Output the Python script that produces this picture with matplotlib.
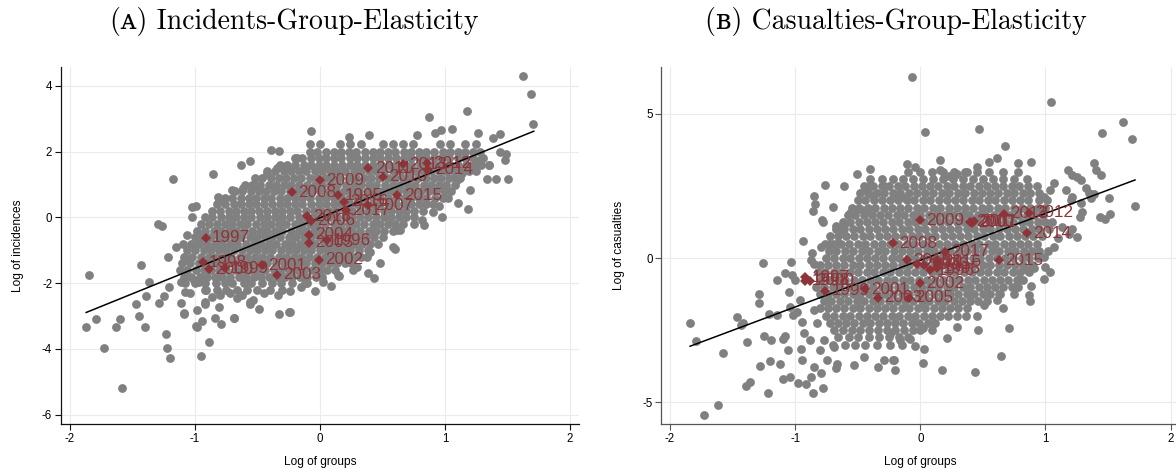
import matplotlib
matplotlib.use('Agg')
import matplotlib.pyplot as plt

plt.rcParams['font.family'] = ['Liberation Sans', 'DejaVu Sans']
plt.rcParams['axes.unicode_minus'] = False

GRAY = '#808080'
RED = '#8e3439'
GRID = '#ebebeb'

# ---------------- Panel A: incidents vs groups ----------------
# dense part of the cloud, one row of points per y level
a_rows = [
    (2.22, [-0.08, 0.0, 0.16, 0.24, 0.33, 0.5, 0.58, 0.66, 0.74, 0.96, 1.04, 1.16, 1.25]),
    (2.0, [-0.08, -0.02, 0.05, 0.11, 0.17, 0.23, 0.29, 0.36, 0.42, 0.48, 0.54, 0.6, 0.67, 0.73,
           0.79, 0.85, 0.91, 0.98, 1.04, 1.1, 1.16, 1.22, 1.28]),
    (1.8, [-0.2, -0.14, -0.07, -0.01, 0.05, 0.11, 0.17, 0.24, 0.3, 0.36, 0.42, 0.48, 0.54, 0.61,
           0.67, 0.73, 0.79, 0.85, 0.91, 0.97, 1.03, 1.1, 1.16, 1.22, 1.3]),
    (1.6, [-0.32, -0.26, -0.2, -0.13, -0.07, -0.01, 0.05, 0.11, 0.18, 0.24, 0.3, 0.36, 0.42, 0.49,
           0.55, 0.61, 0.67, 0.73, 0.8, 0.86, 0.92, 0.98, 1.04, 1.1, 1.17, 1.23, 1.29, 1.35]),
    (1.4, [-0.42, -0.36, -0.29, -0.23, -0.17, -0.11, -0.04, 0.02, 0.08, 0.14, 0.2, 0.27, 0.33, 0.39,
           0.45, 0.51, 0.58, 0.64, 0.7, 0.76, 0.82, 0.89, 0.95, 1.01, 1.07, 1.13, 1.19, 1.25]),
    (1.2, [-0.52, -0.46, -0.39, -0.33, -0.27, -0.21, -0.15, -0.08, -0.02, 0.04, 0.1, 0.16, 0.23,
           0.29, 0.35, 0.41, 0.47, 0.54, 0.6, 0.66, 0.72, 0.78, 0.85, 0.91, 0.97, 1.03, 1.08, 1.12]),
    (1.0, [-0.6, -0.54, -0.48, -0.41, -0.35, -0.29, -0.23, -0.17, -0.1, -0.04, 0.02, 0.08, 0.14,
           0.21, 0.27, 0.33, 0.39, 0.45, 0.52, 0.58, 0.64, 0.7, 0.76, 0.83, 0.89, 0.95, 1.01, 1.08]),
    (0.8, [-0.68, -0.62, -0.55, -0.49, -0.43, -0.37, -0.31, -0.24, -0.18, -0.12, -0.06, 0.0, 0.07,
           0.13, 0.19, 0.25, 0.31, 0.38, 0.44, 0.5, 0.56, 0.62, 0.69, 0.75, 0.81, 0.87, 0.93, 0.99,
           1.05]),
    (0.6, [-0.76, -0.7, -0.63, -0.57, -0.51, -0.45, -0.39, -0.32, -0.26, -0.2, -0.14, -0.08, -0.01,
           0.05, 0.11, 0.17, 0.23, 0.3, 0.36, 0.42, 0.48, 0.54, 0.61, 0.67, 0.73, 0.79, 0.85, 0.92,
           0.98]),
    (0.4, [-0.82, -0.76, -0.69, -0.63, -0.57, -0.51, -0.45, -0.38, -0.32, -0.26, -0.2, -0.14,
           -0.07, -0.01, 0.05, 0.11, 0.17, 0.24, 0.3, 0.36, 0.42, 0.48, 0.55, 0.61, 0.67, 0.73,
           0.79, 0.85, 0.9]),
    (0.2, [-0.86, -0.8, -0.73, -0.67, -0.61, -0.55, -0.49, -0.42, -0.36, -0.3, -0.24, -0.18,
           -0.11, -0.05, 0.01, 0.07, 0.13, 0.2, 0.26, 0.32, 0.38, 0.44, 0.51, 0.57, 0.63, 0.69,
           0.75, 0.82]),
    (0.0, [-0.92, -0.86, -0.79, -0.73, -0.67, -0.61, -0.55, -0.48, -0.42, -0.36, -0.3, -0.24,
           -0.17, -0.11, -0.05, 0.01, 0.07, 0.14, 0.2, 0.26, 0.32, 0.38, 0.45, 0.51, 0.57, 0.63,
           0.69, 0.75]),
    (-0.2, [-0.95, -0.89, -0.82, -0.76, -0.7, -0.64, -0.58, -0.51, -0.45, -0.39, -0.33, -0.27,
            -0.2, -0.14, -0.08, -0.02, 0.04, 0.11, 0.17, 0.23, 0.29, 0.35, 0.42, 0.48, 0.54, 0.6,
            0.66]),
    (-0.4, [-0.98, -0.92, -0.85, -0.79, -0.73, -0.67, -0.61, -0.54, -0.48, -0.42, -0.36, -0.3,
            -0.23, -0.17, -0.11, -0.05, 0.01, 0.08, 0.14, 0.2, 0.26, 0.32, 0.39, 0.45, 0.51, 0.58]),
    (-0.6, [-1.0, -0.94, -0.87, -0.81, -0.75, -0.69, -0.63, -0.56, -0.5, -0.44, -0.38, -0.32,
            -0.25, -0.19, -0.13, -0.07, -0.01, 0.06, 0.12, 0.18, 0.24, 0.3, 0.37, 0.43, 0.5]),
    (-0.8, [-1.03, -0.97, -0.9, -0.84, -0.78, -0.72, -0.66, -0.59, -0.53, -0.47, -0.41, -0.35,
            -0.28, -0.22, -0.16, -0.1, -0.04, 0.03, 0.09, 0.15, 0.21, 0.27, 0.34, 0.4, 0.46]),
    (-1.0, [-1.06, -1.0, -0.93, -0.87, -0.81, -0.75, -0.69, -0.62, -0.56, -0.5, -0.44, -0.38,
            -0.31, -0.25, -0.19, -0.13, -0.07, 0.0, 0.06, 0.12, 0.18, 0.24, 0.31, 0.38]),
    (-1.2, [-1.08, -1.02, -0.95, -0.89, -0.83, -0.77, -0.71, -0.64, -0.58, -0.52, -0.46, -0.4,
            -0.33, -0.27, -0.21, -0.15, -0.09, -0.02, 0.04, 0.1, 0.16, 0.22, 0.28, 0.33]),
    (-1.4, [-1.1, -1.04, -0.97, -0.91, -0.85, -0.79, -0.73, -0.66, -0.6, -0.54, -0.48, -0.42,
            -0.35, -0.29, -0.23, -0.17, -0.11, -0.04, 0.02, 0.08, 0.14, 0.2, 0.25]),
    (-1.6, [-1.12, -1.06, -0.99, -0.93, -0.87, -0.81, -0.75, -0.68, -0.62, -0.56, -0.5, -0.44,
            -0.37, -0.31, -0.25, -0.19, -0.13, -0.06, 0.0, 0.06, 0.12]),
    (-1.8, [-1.09, -1.03, -0.96, -0.9, -0.84, -0.78, -0.72, -0.65, -0.59, -0.53, -0.47, -0.41,
            -0.34, -0.28, -0.22, -0.16, -0.1, -0.03, 0.02]),
    (-2.0, [-1.08, -1.0, -0.92, -0.83, -0.76, -0.7, -0.61, -0.55, -0.46, -0.38, -0.31, -0.22, -0.12]),
    (-2.2, [-0.92, -0.82, -0.75, -0.66, -0.58, -0.5, -0.4, -0.3]),
]

# scattered points around the dense part
a_outliers = [
    (-1.87, -3.33), (-1.845, -1.76), (-1.79, -3.10), (-1.73, -3.98), (-1.63, -3.33),
    (-1.60, -3.09), (-1.58, -5.18), (-1.43, -1.45), (-1.47, -2.64), (-1.45, -2.99),
    (-1.40, -3.33), (-1.39, -2.39), (-1.365, -1.96), (-1.29, -2.59), (-1.25, -2.39),
    (-1.235, -3.53), (-1.22, -3.96), (-1.20, -4.26), (-1.21, -2.11), (-1.11, -2.59),
    (-1.09, -2.95), (-0.99, -3.29), (-0.98, -2.82), (-0.94, -3.15), (-0.95, -4.22),
    (-0.89, -3.78), (-0.92, -2.62), (-0.84, -3.05), (-0.805, -2.72), (-0.79, -3.23),
    (-0.685, -3.07), (-0.56, -2.62), (-0.485, -2.77), (-0.333, -2.36), (-0.325, -2.94),
    (-0.248, -2.89), (-0.24, -2.23), (-1.11, -1.96), (-1.01, -1.91), (-1.08, -2.26),
    (-1.04, -2.31), (-0.97, -1.96), (-0.91, -2.21), (-0.667, -2.46), (-0.627, -2.36),
    (-0.533, -2.51), (-0.45, -2.30), (-0.72, -2.30), (-0.80, -2.35), (-0.86, -2.42),
    (-0.92, -2.56), (-0.56, -2.56), (-0.24, -2.87), (-1.09, -2.92), (-0.987, -3.32),
    (-0.69, -3.07), (0.48, -1.38), (0.155, -1.78), (0.435, -1.85), (0.085, -2.08),
    (-0.04, -2.23), (0.021, -1.96), (0.293, -1.50), (-0.1, -2.0), (-0.15, -2.12),
    (0.267, -1.6), (0.373, -1.2), (0.587, -0.89), (0.6, -0.95), (0.4, -1.04),
    (0.387, -1.70), (0.147, -1.75), (-1.173, 1.17), (-0.853, 1.31), (-0.632, 1.60),
    (-0.56, 1.72), (-0.395, 2.06), (-0.325, 2.02), (-0.187, 1.81), (-1.293, -0.2),
    (-1.261, -0.26), (-0.992, 0.35), (-1.027, 0.32), (-1.027, 0.02), (-0.813, 0.62),
    (-0.808, 0.53), (-1.152, -0.89), (-1.099, -0.82), (-1.213, -1.2), (-0.965, -0.74),
    (-0.707, 0.82), (-0.613, 0.88), (-0.52, 0.98), (-0.427, 1.33), (-0.347, 1.49),
    (-1.09, -1.2), (-1.06, -0.55), (1.62, 4.29), (1.685, 3.75), (1.707, 2.83),
    (1.173, 3.23), (0.869, 3.04), (-0.072, 2.62), (0.232, 2.45), (0.392, 2.52),
    (0.773, 2.5), (0.923, 2.57), (0.965, 2.65), (1.059, 2.68), (1.267, 2.57),
    (1.387, 2.40), (1.44, 2.55), (1.485, 1.94), (1.44, 1.99), (1.48, 1.74),
    (1.501, 1.16), (1.405, 1.16), (1.333, 1.18), (1.2, 0.83), (1.181, 0.25),
    (0.979, 0.02), (0.832, -0.23), (0.813, -0.08), (0.613, -0.39), (0.64, -0.39),
    (1.28, 1.74), (1.355, 1.59), (1.227, 1.54), (1.133, 1.34), (1.093, 1.14),
    (1.02, 0.6), (1.1, 0.45), (0.95, 0.35), (0.9, 0.15), (0.75, -0.2),
]

a_years = ['1997', '1998', '2000', '1999', '2001', '2003', '2002', '2004', '2005', '1996',
           '2018', '2006', '2008', '2009', '1995', '2016', '2017', '2007', '2015', '2010',
           '2011', '2013', '2012', '2014']
a_year_x = [-0.912, -0.939, -0.888, -0.76, -0.467, -0.347, -0.005, -0.088, -0.088, 0.053,
            -0.107, -0.075, -0.227, 0.0, 0.147, 0.192, 0.208, 0.387, 0.619, 0.501,
            0.387, 0.661, 0.853, 0.867]
a_year_y = [-0.62, -1.37, -1.58, -1.55, -1.45, -1.75, -1.28, -0.52, -0.77, -0.69,
            0.04, -0.10, 0.76, 1.13, 0.68, 0.47, 0.22, 0.37, 0.68, 1.23,
            1.49, 1.62, 1.64, 1.45]
a_fit_x = [-1.87, 1.71]
a_fit_y = [-2.89, 2.62]

# ---------------- Panel B: casualties vs groups ----------------
b_rows = [
    (3.0, [-0.1, 0.0, 0.09, 0.18, 0.27, 0.37, 0.45, 0.55, 0.66, 0.78]),
    (2.75, [-0.4, -0.31, -0.22, -0.14, -0.06, 0.02, 0.1, 0.18, 0.26, 0.34, 0.42, 0.5, 0.58,
            0.66, 0.75, 0.85]),
    (2.5, [-0.45, -0.38, -0.31, -0.25, -0.18, -0.12, -0.05, 0.01, 0.08, 0.14, 0.21, 0.27, 0.34,
           0.4, 0.47, 0.53, 0.6, 0.66, 0.73, 0.79, 0.86, 0.93]),
    (2.25, [-0.48, -0.42, -0.35, -0.29, -0.22, -0.16, -0.09, -0.03, 0.04, 0.1, 0.17, 0.23, 0.3,
            0.36, 0.43, 0.49, 0.56, 0.62, 0.69, 0.75, 0.82, 0.88, 0.95]),
    (2.0, [-0.5, -0.44, -0.37, -0.31, -0.24, -0.18, -0.11, -0.05, 0.02, 0.08, 0.15, 0.21, 0.28,
           0.34, 0.41, 0.47, 0.54, 0.6, 0.67, 0.73, 0.8, 0.86, 0.95]),
    (1.75, [-0.55, -0.49, -0.42, -0.36, -0.29, -0.23, -0.16, -0.1, -0.03, 0.03, 0.1, 0.16, 0.23,
            0.29, 0.36, 0.42, 0.49, 0.55, 0.62, 0.68, 0.75, 0.81, 0.88, 0.94, 1.0]),
    (1.5, [-0.58, -0.52, -0.45, -0.39, -0.32, -0.26, -0.19, -0.13, -0.06, 0.0, 0.07, 0.13, 0.2,
           0.26, 0.33, 0.39, 0.46, 0.52, 0.59, 0.65, 0.72, 0.78, 0.85, 0.91, 0.98]),
    (1.25, [-0.62, -0.56, -0.49, -0.43, -0.36, -0.3, -0.23, -0.17, -0.1, -0.04, 0.03, 0.09, 0.16,
            0.22, 0.29, 0.35, 0.42, 0.48, 0.55, 0.61, 0.68, 0.74, 0.81, 0.87, 0.94, 1.0, 1.05]),
    (1.0, [-0.67, -0.61, -0.54, -0.48, -0.41, -0.35, -0.28, -0.22, -0.15, -0.09, -0.02, 0.04,
           0.11, 0.17, 0.24, 0.3, 0.37, 0.43, 0.5, 0.56, 0.63, 0.69, 0.76, 0.82, 0.89, 0.95, 1.03]),
    (0.75, [-0.72, -0.66, -0.59, -0.53, -0.46, -0.4, -0.33, -0.27, -0.2, -0.14, -0.07, -0.01,
            0.06, 0.12, 0.19, 0.25, 0.32, 0.38, 0.45, 0.51, 0.58, 0.64, 0.71, 0.77, 0.84, 0.9, 0.97]),
    (0.5, [-0.76, -0.7, -0.63, -0.57, -0.5, -0.44, -0.37, -0.31, -0.24, -0.18, -0.11, -0.05, 0.02,
           0.08, 0.15, 0.21, 0.28, 0.34, 0.41, 0.47, 0.54, 0.6, 0.67, 0.73, 0.8, 0.86, 0.93]),
    (0.25, [-0.73, -0.67, -0.6, -0.54, -0.47, -0.41, -0.34, -0.28, -0.21, -0.15, -0.08, -0.02,
            0.05, 0.11, 0.18, 0.24, 0.31, 0.37, 0.44, 0.5, 0.57, 0.63, 0.7, 0.76, 0.83, 0.89, 0.95]),
    (0.0, [-0.75, -0.69, -0.62, -0.56, -0.49, -0.43, -0.36, -0.3, -0.23, -0.17, -0.1, -0.04, 0.03,
           0.09, 0.16, 0.22, 0.29, 0.35, 0.42, 0.48, 0.55, 0.61, 0.68, 0.74, 0.81, 0.87, 0.94]),
    (-0.25, [-0.8, -0.74, -0.67, -0.61, -0.54, -0.48, -0.41, -0.35, -0.28, -0.22, -0.15, -0.09,
             -0.02, 0.04, 0.11, 0.17, 0.24, 0.3, 0.37, 0.43, 0.5, 0.56, 0.63, 0.69, 0.76, 0.82, 0.89]),
    (-0.5, [-0.82, -0.76, -0.69, -0.63, -0.56, -0.5, -0.43, -0.37, -0.3, -0.24, -0.17, -0.11,
            -0.04, 0.02, 0.09, 0.15, 0.22, 0.28, 0.35, 0.41, 0.48, 0.54, 0.61, 0.67, 0.74, 0.8, 0.87]),
    (-0.75, [-0.79, -0.73, -0.66, -0.6, -0.53, -0.47, -0.4, -0.34, -0.27, -0.21, -0.14, -0.08,
             -0.01, 0.05, 0.12, 0.18, 0.25, 0.31, 0.38, 0.44, 0.51, 0.57, 0.64, 0.7, 0.77, 0.82]),
    (-1.0, [-0.83, -0.77, -0.7, -0.64, -0.57, -0.51, -0.44, -0.38, -0.31, -0.25, -0.18, -0.12,
            -0.05, 0.01, 0.08, 0.14, 0.21, 0.27, 0.34, 0.4, 0.47, 0.53, 0.6, 0.66, 0.73, 0.78]),
    (-1.25, [-0.8, -0.74, -0.67, -0.61, -0.54, -0.48, -0.41, -0.35, -0.28, -0.22, -0.15, -0.09,
             -0.02, 0.04, 0.11, 0.17, 0.24, 0.3, 0.37, 0.43, 0.5, 0.56, 0.63]),
    (-1.5, [-0.77, -0.71, -0.64, -0.58, -0.51, -0.45, -0.38, -0.32, -0.25, -0.19, -0.12, -0.06,
            0.01, 0.07, 0.14, 0.2, 0.27, 0.33, 0.4, 0.46, 0.53]),
    (-1.75, [-0.8, -0.74, -0.67, -0.61, -0.54, -0.48, -0.41, -0.35, -0.28, -0.22, -0.15, -0.09,
             -0.02, 0.04, 0.11, 0.17, 0.24, 0.3, 0.37]),
    (-2.0, [-0.75, -0.69, -0.62, -0.56, -0.49, -0.43, -0.36, -0.3, -0.23, -0.17, -0.1, -0.04,
            0.03, 0.09, 0.16, 0.22, 0.29]),
    (-2.25, [-0.72, -0.66, -0.59, -0.53, -0.46, -0.4, -0.33, -0.27, -0.2, -0.14, -0.07, -0.01,
             0.06, 0.12]),
    (-2.5, [-0.69, -0.62, -0.55, -0.48, -0.41, -0.34, -0.27, -0.2, -0.13, -0.06, 0.0]),
    (-2.75, [-0.66, -0.57, -0.5, -0.41, -0.33, -0.25, -0.17, -0.1]),
    (-3.0, [-0.7, -0.6, -0.52, -0.44, -0.35, -0.24, -0.15]),
]

b_outliers = [
    (-0.067, 6.30), (1.048, 5.40), (1.619, 4.71), (1.693, 4.13), (1.448, 4.35),
    (0.04, 4.38), (0.467, 4.48), (0.675, 3.9), (0.613, 3.48), (0.885, 3.34),
    (0.781, 3.29), (0.547, 3.32), (0.155, 3.4), (-0.107, 3.27), (-0.04, 3.15),
    (1.712, 1.82), (1.507, 2.07), (1.515, 1.53), (1.432, 1.44), (1.472, 1.36),
    (1.387, 3.3), (1.4, 3.05), (1.44, 2.88), (1.179, 3.06), (1.213, 2.88),
    (1.253, 2.83), (1.28, 2.71), (1.32, 2.44), (1.347, 2.27), (1.365, 2.09),
    (1.387, 2.24), (1.16, 2.36), (1.213, 2.13), (1.205, 2.01), (1.28, 1.9),
    (1.293, 1.6), (1.275, 1.43), (1.067, 2.59), (1.04, 2.36), (0.987, 2.13),
    (1.013, 2.01), (1.133, 1.08), (1.187, 0.85), (1.253, 0.73), (1.213, 1.02),
    (1.04, -0.48), (0.995, -0.3), (0.155, 3.07), (0.227, 2.84), (0.293, 2.93),
    (0.36, 2.99), (0.453, 3.17), (-0.293, 2.48), (-0.213, 2.13), (-0.12, 2.07),
    (-0.4, 3.09), (-0.507, 2.92), (-0.76, 2.53), (-0.608, 2.5), (-0.44, 2.42),
    (-0.413, 2.5), (-0.288, 2.5), (-0.848, 2.15), (-0.84, 1.89), (-0.861, 1.63),
    (-0.699, 1.78), (-0.787, 1.32), (-0.78, 1.25), (-0.675, 1.11), (-0.613, 1.14),
    (-0.627, 0.97), (-0.56, 1.55), (-0.485, 1.72), (-0.427, 1.72), (-0.387, 2.19),
    (-0.939, 0.6), (-0.867, 0.18), (-1.035, -0.12), (-0.875, -0.07), (-0.851, -0.22),
    (-0.79, 0.37), (-0.731, 0.48), (-0.66, 0.53), (-1.84, -2.27), (-1.792, -2.88),
    (-1.579, -3.29), (-1.725, -5.45), (-1.619, -5.1), (-1.467, -2.06), (-1.435, -2.33),
    (-1.419, -2.27), (-1.387, -2.9), (-1.395, -4.44), (-1.36, -4.3), (-1.288, -1.25),
    (-1.288, -1.57), (-1.261, -0.16), (-1.285, -3.75), (-1.248, -2.71), (-1.195, -2.85),
    (-1.213, -1.94), (-1.147, -1.98), (-1.219, -4.7), (-1.2, -3.56), (-1.12, -3.66),
    (-1.101, -4.18), (-1.04, -4.12), (-1.1, -2.8), (-1.08, -2.72), (-1.061, -3.2),
    (-1.147, -0.76), (-1.08, -0.53), (-1.027, -0.59), (-1.0, -0.76), (-1.053, -1.17),
    (-0.981, -4.35), (-0.912, -4.38), (-0.859, -4.7), (-0.779, -4.5), (-0.795, -4.0),
    (-0.875, -4.12), (-0.947, -3.54), (-0.952, -3.14), (-0.885, -2.85), (-0.933, -2.59),
    (-0.947, -2.21), (-1.04, -1.69), (-1.019, -1.98), (-0.987, -1.86), (-0.96, -1.46),
    (-0.675, -3.83), (-0.667, -3.66), (-0.533, -3.72), (-0.453, -3.45), (-0.339, -3.77),
    (-0.293, -3.54), (-0.213, -3.54), (-0.2, -3.89), (-0.853, -1.81), (-0.827, -2.27),
    (-0.773, -2.85), (-0.8, -3.2), (-0.693, -3.08), (-0.747, -3.54), (-0.853, -3.77),
    (0.44, -3.97), (0.173, -3.87), (0.645, -3.4), (0.019, -3.63), (-0.219, -3.54),
    (0.459, -2.48), (0.707, -2.44), (0.368, -2.01), (0.213, -2.79), (0.027, -3.14),
    (-0.04, -3.06), (-0.08, -2.82), (-0.16, -2.85), (-0.24, -2.64), (0.093, -2.48),
    (0.019, -2.44), (0.659, -1.75), (0.507, -1.63), (0.875, -1.48), (0.867, -1.29),
    (0.885, -0.97), (0.992, -0.74), (0.773, -0.97), (0.747, -1.23), (0.787, -0.71),
    (0.853, -0.42), (0.907, -0.36), (0.613, -1.46), (0.64, -1.23), (0.293, -2.38),
    (0.987, 0.04), (1.067, 0.4), (1.02, 0.25), (1.1, 0.7), (0.45, -2.0),
]

b_years = ['1997', '1998', '2000', '1999', '2001', '2003', '2005', '2002', '2004', '2006',
           '1996', '1995', '2016', '2018', '2017', '2008', '2015', '2009', '2010', '2007',
           '2013', '2012', '2014', '2011']
b_year_x = [-0.92, -0.92, -0.88, -0.76, -0.44, -0.341, -0.093, 0.0, -0.027, 0.027,
            0.08, 0.133, 0.133, -0.107, 0.2, -0.221, 0.627, 0.0, 0.395, 0.413,
            0.667, 0.867, 0.853, 0.43]
b_year_y = [-0.67, -0.79, -0.79, -1.13, -1.09, -1.37, -1.37, -0.88, -0.19, -0.24,
            -0.42, -0.36, -0.13, -0.07, 0.22, 0.51, -0.07, 1.32, 1.26, 1.23,
            1.53, 1.57, 0.86, 1.28]
b_fit_x = [-1.84, 1.715]
b_fit_y = [-3.06, 2.71]


def cloud(rows, outliers):
    xs, ys = [], []
    for y, row in rows:
        xs += row
        ys += [y] * len(row)
    for x, y in outliers:
        xs.append(x)
        ys.append(y)
    return xs, ys


def draw_panel(ax, rows, outliers, years, yx, yy, fit_x, fit_y,
               xlim, ylim, yticks, spine_color):
    xs, ys = cloud(rows, outliers)
    ax.scatter(xs, ys, s=40, color=GRAY, linewidths=0, zorder=2)
    ax.plot(fit_x, fit_y, color='black', lw=1.1, zorder=3)
    ax.plot(yx, yy, linestyle='none', marker='D', ms=5.6, color=RED,
            markeredgewidth=0, zorder=4)
    for lab, x, y in zip(years, yx, yy):
        ax.annotate(lab, (x, y), xytext=(4.5, 0), textcoords='offset points',
                    ha='left', va='center', fontsize=12.3, color=RED, zorder=5,
                    family='Liberation Sans')

    ax.set_xlim(*xlim)
    ax.set_ylim(*ylim)
    xticks = [-2, -1, 0, 1, 2]
    ax.set_xticks(xticks)
    ax.set_xticklabels([str(t) for t in xticks])
    ax.set_yticks(yticks)
    ax.set_yticklabels([str(t) for t in yticks])
    ax.grid(True, color=GRID, lw=0.8, zorder=0)
    ax.set_axisbelow(True)

    for side in ['top', 'right']:
        ax.spines[side].set_visible(False)
    for side in ['left', 'bottom']:
        ax.spines[side].set_color(spine_color)
        ax.spines[side].set_linewidth(0.9)
    ax.tick_params(direction='out', length=4.3, width=0.8, pad=1.8,
                   labelsize=8.3, color=spine_color, labelcolor='black')


fig = plt.figure(figsize=(11.76, 4.75), dpi=100)

ax_a = fig.add_axes([0.0516, 0.1067, 0.4410, 0.7528])
draw_panel(ax_a, a_rows, a_outliers, a_years, a_year_x, a_year_y, a_fit_x, a_fit_y,
           (-2.074, 2.074), (-6.29, 4.58), [-6, -4, -2, 0, 2, 4], '#111111')

ax_b = fig.add_axes([0.5621, 0.1067, 0.4410, 0.7528])
draw_panel(ax_b, b_rows, b_outliers, b_years, b_year_x, b_year_y, b_fit_x, b_fit_y,
           (-2.072, 2.072), (-5.77, 6.64), [-5, 0, 5], '#555555')

# axis titles
fig.text(0.2721, 0.027, 'Log of groups', ha='center', va='center', fontsize=8.6)
fig.text(0.7823, 0.027, 'Log of groups', ha='center', va='center', fontsize=8.6)
fig.text(0.0153, 0.483, 'Log of incidences', ha='center', va='center',
         rotation=90, fontsize=8.6)
fig.text(0.5264, 0.483, 'Log of casualties', ha='center', va='center',
         rotation=90, fontsize=8.6)

# panel captions
fig.text(0.2504, 0.955, '(\u1d00) Incidents-Group-Elasticity', ha='center', va='center',
         fontsize=20, family=['cmr10', 'DejaVu Serif'])
fig.text(0.7615, 0.955, '(\u0299) Casualties-Group-Elasticity', ha='center', va='center',
         fontsize=20, family=['cmr10', 'DejaVu Serif'])

fig.savefig('out.png', dpi=100)
